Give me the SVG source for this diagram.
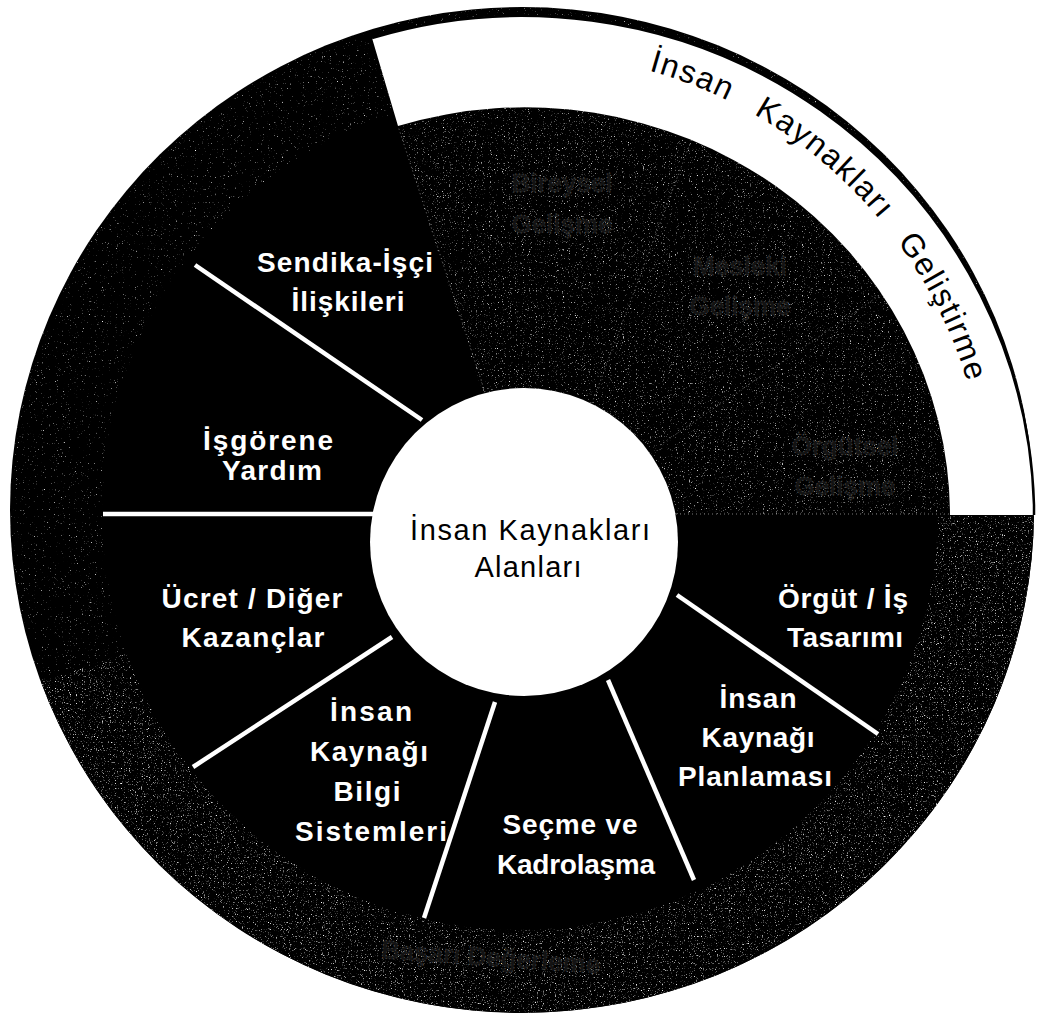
<svg xmlns="http://www.w3.org/2000/svg" width="1038" height="1015" viewBox="0 0 1038 1015">
  <style>
    .lbl { font-family: "Liberation Sans", Arial, sans-serif; font-weight: bold; font-size: 28px; fill: #ffffff; text-anchor: middle; }
    .faint { font-family: "Liberation Sans", Arial, sans-serif; font-weight: bold; font-size: 26px; fill: #131313; stroke: #666666; stroke-width: 0.8; stroke-dasharray: 1 2.5; text-anchor: middle; }
    .hub { font-family: "Liberation Sans", Arial, sans-serif; font-size: 29px; fill: #000000; text-anchor: middle; }
    .band { font-family: "Liberation Sans", Arial, sans-serif; font-size: 32px; fill: #000000; letter-spacing: 1.5px; }
    .divider { stroke: #ffffff; stroke-width: 4.5; fill: none; }
    .seam { stroke: #7a7a7a; stroke-width: 1; stroke-dasharray: 1 3; fill: none; }
  </style>
  <defs>
    <!-- sparse print grain, masked to the shape it is applied to -->
    <filter id="grainLight" filterUnits="userSpaceOnUse" x="0" y="0" width="1038" height="1015" color-interpolation-filters="sRGB">
      <feTurbulence type="fractalNoise" baseFrequency="0.85" numOctaves="2" seed="4" result="noise"/>
      <feColorMatrix in="noise" type="matrix" values="0 0 0 0 1  0 0 0 0 1  0 0 0 0 1  1 0 0 0 0" result="white"/>
      <feComponentTransfer in="white" result="dots"><feFuncA type="linear" slope="4" intercept="-2.75"/></feComponentTransfer>
      <feComposite in="dots" in2="SourceGraphic" operator="in" result="clip"/>
      <feMerge><feMergeNode in="SourceGraphic"/><feMergeNode in="clip"/></feMerge>
    </filter>
    <filter id="grainMid" filterUnits="userSpaceOnUse" x="0" y="0" width="1038" height="1015" color-interpolation-filters="sRGB">
      <feTurbulence type="fractalNoise" baseFrequency="0.85" numOctaves="2" seed="9" result="noise"/>
      <feColorMatrix in="noise" type="matrix" values="0 0 0 0 1  0 0 0 0 1  0 0 0 0 1  1 0 0 0 0" result="white"/>
      <feComponentTransfer in="white" result="dots"><feFuncA type="linear" slope="4" intercept="-2.55"/></feComponentTransfer>
      <feComposite in="dots" in2="SourceGraphic" operator="in" result="clip"/>
      <feMerge><feMergeNode in="SourceGraphic"/><feMergeNode in="clip"/></feMerge>
    </filter>
    <filter id="grainDense" filterUnits="userSpaceOnUse" x="0" y="0" width="1038" height="1015" color-interpolation-filters="sRGB">
      <feTurbulence type="fractalNoise" baseFrequency="0.85" numOctaves="2" seed="13" result="noise"/>
      <feColorMatrix in="noise" type="matrix" values="0 0 0 0 1  0 0 0 0 1  0 0 0 0 1  1 0 0 0 0" result="white"/>
      <feComponentTransfer in="white" result="dots"><feFuncA type="linear" slope="4" intercept="-2.45"/></feComponentTransfer>
      <feComposite in="dots" in2="SourceGraphic" operator="in" result="clip"/>
      <feMerge><feMergeNode in="SourceGraphic"/><feMergeNode in="clip"/></feMerge>
    </filter>
    <!-- baseline for the band caption -->
    <path id="bandArc" d="M 648.7,70.5 A 462 462 0 0 1 985.3,475.0"/>
  </defs>

  <rect width="1038" height="1015" fill="#ffffff"/>

  <!-- wheel body -->
  <g id="wheel">
    <ellipse cx="522" cy="510" rx="512" ry="503" fill="#000000" filter="url(#grainLight)"/>
    <!-- outer ring, lower part: heavier grain -->
    <path d="M 522,516 L 1034,516 A 512 503 0 0 1 41,682 Z" fill="#000000" filter="url(#grainDense)"/>
    <!-- inner ring of functional areas -->
    <circle cx="520" cy="512" r="418" fill="#000000"/>
  </g>

  <!-- development sector (three faint areas) -->
  <g id="hrd-sector">
    <path d="M 485,400 L 398,126 A 425 409 0 0 1 950,514 L 660,514 L 524,542 Z" fill="#000000" filter="url(#grainMid)"/>
    <path class="seam" d="M 485,392 L 398,126"/>
    <path class="seam" d="M 592,403 L 702,112"/>
    <path class="seam" d="M 660,445 L 905,278"/>
    <path class="seam" d="M 676,514 L 950,514"/>
  </g>

  <g id="bireysel-gelisme">
    <text class="faint" x="562" y="192">Bireysel</text>
    <text class="faint" x="562" y="233">Gelişme</text>
  </g>
  <g id="mesleki-gelisme">
    <text class="faint" x="740" y="275">Mesleki</text>
    <text class="faint" x="740" y="315">Gelişme</text>
  </g>
  <g id="orgutsel-gelisme">
    <text class="faint" x="845" y="455">Örgütsel</text>
    <text class="faint" x="845" y="495">Gelişme</text>
  </g>
  <g id="basari-degerleme">
    <text class="faint" x="490" y="966" transform="rotate(4 490 966)">Başarı Değerleme</text>
  </g>

  <!-- outer white band: human resource development -->
  <g id="ik-gelistirme">
    <path d="M 372,38 A 512 503 0 0 1 1034,505 L 1034,515 L 950,515 A 425 409 0 0 0 398,126 Z" fill="#ffffff"/>
    <path d="M 372,38 A 512 503 0 0 1 1034,505 L 1034,515" fill="none" stroke="#000000" stroke-width="2.5"/>
    <text class="band"><textPath href="#bandArc" startOffset="0">İnsan</textPath></text>
    <text class="band"><textPath href="#bandArc" startOffset="114">Kaynakları</textPath></text>
    <text class="band"><textPath href="#bandArc" startOffset="307">Geliştirme</textPath></text>
  </g>

  <!-- spokes between areas -->
  <g id="connectors">
    <line class="divider" x1="195" y1="265" x2="422" y2="420"/>
    <line class="divider" x1="103" y1="514" x2="373" y2="514"/>
    <line class="divider" x1="392" y1="637" x2="193" y2="767"/>
    <line class="divider" x1="495" y1="702" x2="424" y2="918"/>
    <line class="divider" x1="608" y1="680" x2="694" y2="880"/>
    <line class="divider" x1="677" y1="595" x2="878" y2="734"/>
  </g>

  <!-- centre -->
  <g id="ik-alanlari">
    <circle cx="524" cy="542" r="154" fill="#ffffff"/>
    <text class="hub" x="530" y="540" textLength="240" lengthAdjust="spacing">İnsan Kaynakları</text>
    <text class="hub" x="528" y="577" textLength="107" lengthAdjust="spacing">Alanları</text>
  </g>

  <g id="sendika-isci">
    <text class="lbl" x="345" y="272" textLength="176" lengthAdjust="spacing">Sendika-İşçi</text>
    <text class="lbl" x="348" y="311" textLength="113" lengthAdjust="spacing">İlişkileri</text>
  </g>
  <g id="isgorene-yardim">
    <text class="lbl" x="268" y="450" textLength="130" lengthAdjust="spacing">İşgörene</text>
    <text class="lbl" x="272" y="480" textLength="100" lengthAdjust="spacing">Yardım</text>
  </g>
  <g id="ucret">
    <text class="lbl" x="252" y="608" textLength="181" lengthAdjust="spacing">Ücret / Diğer</text>
    <text class="lbl" x="253" y="647" textLength="143" lengthAdjust="spacing">Kazançlar</text>
  </g>
  <g id="bilgi-sistemleri">
    <text class="lbl" x="371" y="721" textLength="82" lengthAdjust="spacing">İnsan</text>
    <text class="lbl" x="369" y="761" textLength="118" lengthAdjust="spacing">Kaynağı</text>
    <text class="lbl" x="367" y="801" textLength="67" lengthAdjust="spacing">Bilgi</text>
    <text class="lbl" x="371" y="841" textLength="152" lengthAdjust="spacing">Sistemleri</text>
  </g>
  <g id="secme-kadrolasma">
    <text class="lbl" x="570" y="834" textLength="135" lengthAdjust="spacing">Seçme ve</text>
    <text class="lbl" x="576" y="874" textLength="158" lengthAdjust="spacing">Kadrolaşma</text>
  </g>
  <g id="ik-planlamasi">
    <text class="lbl" x="758" y="708" textLength="77" lengthAdjust="spacing">İnsan</text>
    <text class="lbl" x="758" y="747" textLength="113" lengthAdjust="spacing">Kaynağı</text>
    <text class="lbl" x="755" y="786" textLength="154" lengthAdjust="spacing">Planlaması</text>
  </g>
  <g id="orgut-is-tasarimi">
    <text class="lbl" x="843" y="608" textLength="130" lengthAdjust="spacing">Örgüt / İş</text>
    <text class="lbl" x="845" y="647" textLength="116" lengthAdjust="spacing">Tasarımı</text>
  </g>
</svg>
